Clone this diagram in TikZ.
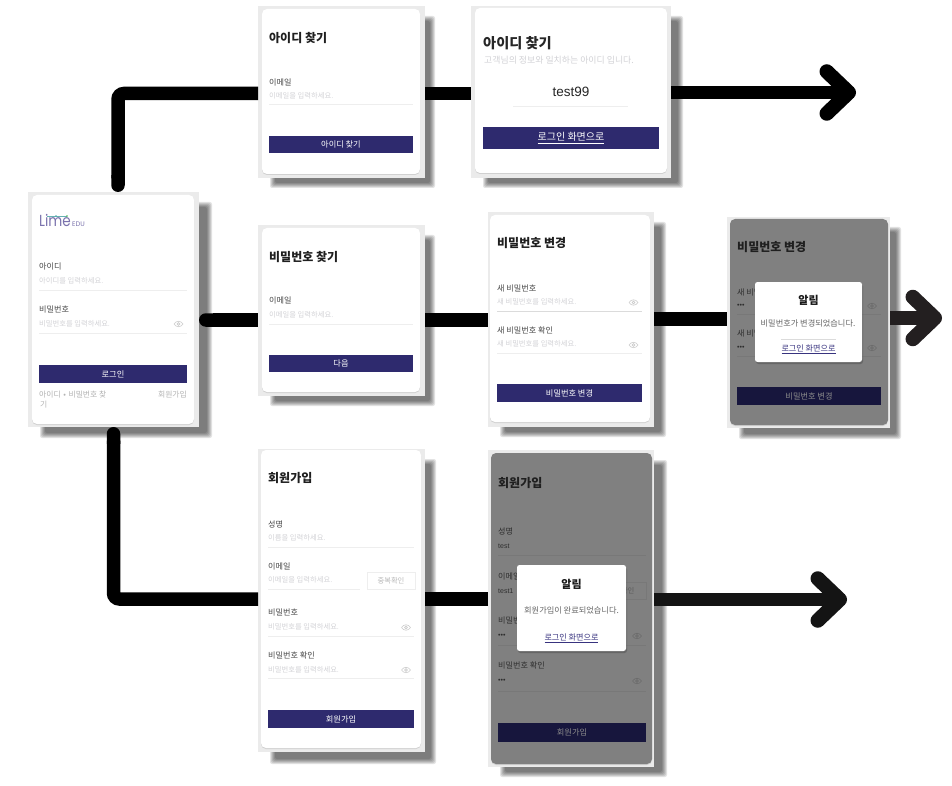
\documentclass[tikz,border=0pt]{standalone}
\usepackage{fontspec}
\setmainfont{Noto Sans CJK KR}
\newfontfamily\logofont{Poppins}
\newfontfamily\latinfont{Liberation Sans}
\usetikzlibrary{arrows.meta}
\definecolor{framegray}{HTML}{EBEBEB}
\definecolor{navy}{HTML}{2E2A6E}
\definecolor{navydim}{HTML}{17163D}
\definecolor{dimcard}{HTML}{808080}
\definecolor{holder}{HTML}{D2D2D6}
\definecolor{fieldrule}{HTML}{EEEEEE}
\definecolor{logopurple}{HTML}{7A72AD}
\definecolor{linkblue}{HTML}{38337F}
\definecolor{arrowdark}{HTML}{231F20}
\newcounter{nn}
\newcommand{\mytxt}[4]{\stepcounter{nn}\node[#1] (t\thenn) at (#2,#3) {#4};}
\newcommand{\centerbox}[6]{% style, name, x1,y1,x2,y2
  \pgfmathsetmacro{\boxw}{#5-#3}\pgfmathsetmacro{\boxh}{#6-#4}
  \pgfmathsetmacro{\boxx}{(#5+#3)/2}\pgfmathsetmacro{\boxy}{(#6+#4)/2}
  \node[#1,minimum width=\boxw pt,minimum height=\boxh pt] (#2) at (\boxx,\boxy) {};}
\newcommand{\softshadow}[4]{%
  \foreach \k in {0,...,5}{\fill[black,fill opacity=.11,rounded corners=2pt]
    (#1+\k,#2+\k) rectangle (#3-\k,#4-\k);}}
\newcommand{\panel}[7]{% name, x1,y1,x2,y2, shadow x2,y2
  \pgfmathsetmacro{\sxa}{#2+12}\pgfmathsetmacro{\sya}{#3+10}
  \softshadow{\sxa}{\sya}{#6}{#7}
  \centerbox{framebox}{#1}{#2}{#3}{#4}{#5}}
\newcommand{\card}[6]{% style,name,x1,y1,x2,y2
  \pgfmathsetmacro{\eya}{#4+1}\pgfmathsetmacro{\eyb}{#6+1}
  \fill[black!18,rounded corners=5pt] (#3,\eya) rectangle (#5,\eyb);
  \centerbox{#1}{#2}{#3}{#4}{#5}{#6}}
\newcommand{\fieldline}[4][fieldrule]{\draw[#1,line width=.7pt] (#2,#4) -- (#3,#4);}
\newcommand{\button}[8]{% name,x1,y1,x2,y2,fill,textcolor,text
  \pgfmathsetmacro{\boxw}{#4-#2}\pgfmathsetmacro{\boxh}{#5-#3}
  \pgfmathsetmacro{\boxx}{(#4+#2)/2}\pgfmathsetmacro{\boxy}{(#5+#3)/2}
  \node[btnbox,fill=#6,text=#7,minimum width=\boxw pt,minimum height=\boxh pt] (#1) at (\boxx,\boxy) {#8};}
\newcommand{\eyeicon}[3]{%
  \draw[#3,line width=.6pt] (#1-4.5,#2) .. controls (#1-2,#2-3.6) and (#1+2,#2-3.6) .. (#1+4.5,#2)
    .. controls (#1+2,#2+3.6) and (#1-2,#2+3.6) .. (#1-4.5,#2);
  \draw[#3,line width=.6pt] (#1,#2) circle (1.4pt);}
\tikzset{
  framebox/.style={fill=framegray,inner sep=0pt,outer sep=0pt},
  whitecard/.style={fill=white,rounded corners=5pt,inner sep=0pt,outer sep=0pt},
  greycard/.style={fill=dimcard,rounded corners=5pt,inner sep=0pt,outer sep=0pt},
  modalcard/.style={fill=white,rounded corners=2.5pt,inner sep=0pt,outer sep=0pt},
  btnbox/.style={inner sep=0pt,outer sep=0pt,font=\fontsize{8.2}{10}\selectfont},
  ttl/.style={anchor=west,inner sep=0pt,font=\fontsize{12}{14}\selectfont\bfseries,text=black!88},
  ttlbig/.style={anchor=west,inner sep=0pt,font=\fontsize{14.2}{16}\selectfont\bfseries,text=black!85},
  lab/.style={anchor=west,inner sep=0pt,font=\fontsize{8.1}{10}\selectfont,text=black!72},
  labdim/.style={anchor=west,inner sep=0pt,font=\fontsize{8.1}{10}\selectfont,text=black!82},
  ph/.style={anchor=west,inner sep=0pt,font=\fontsize{7.3}{9}\selectfont,text=holder},
  smalldim/.style={anchor=west,inner sep=0pt,font=\latinfont\fontsize{7}{9}\selectfont,text=black!82},
  foot/.style={inner sep=0pt,font=\fontsize{7.8}{9}\selectfont,text=black!30},
  modalhead/.style={inner sep=0pt,font=\fontsize{11}{13}\selectfont\bfseries,text=black!90},
  modalmsg/.style={inner sep=0pt,font=\fontsize{8.2}{10}\selectfont,text=black!60},
  modallink/.style={inner sep=0pt,font=\fontsize{8.1}{10}\selectfont,text=linkblue},
  conn/.style={line width=13.5pt,black,line cap=butt},
  roundstart/.style={{Round Cap[]}-},
  head/.style={-{Straight Barb[round,length=22pt,width=42pt,line width=14.5pt]}}
}
\begin{document}
\begin{tikzpicture}[x=1pt,y=-1pt]
\useasboundingbox (0,0) rectangle (952,786);
\fill[white] (0,0) rectangle (952,786);

% ---------- login
\panel{s1}{28}{192}{199}{427}{212}{438}
\card{whitecard}{s1c}{32}{195}{194}{424}
\mytxt{anchor=base west,inner sep=0pt,xscale=.85,font=\logofont\fontsize{16}{17}\selectfont,text=logopurple}{39}{227}{Lime}
\mytxt{anchor=base west,inner sep=0pt,font=\logofont\fontsize{6.6}{8}\selectfont,text=logopurple}{72}{227}{EDU}
\draw[teal!60,line width=.3pt] (47,216) -- (67,216);
\fill[teal!70] (56,216) circle (.9pt);
\fill[green!60!black!70] (67,216) circle (.9pt);
\mytxt{lab}{39}{266}{아이디}
\mytxt{ph}{39}{281}{아이디를 입력하세요.}
\fieldline{39}{187}{290}
\mytxt{lab}{39}{309}{비밀번호}
\mytxt{ph}{39}{323.5}{비밀번호를 입력하세요.}
\fieldline{39}{187}{333}
\eyeicon{178.5}{324}{black!20}
\button{b1}{39}{365}{187}{383}{navy}{white}{로그인}
\mytxt{foot,anchor=west}{39}{395}{아이디\,\,•\,\,비밀번호 찾}
\mytxt{foot,anchor=west}{40}{405}{기}
\mytxt{foot,anchor=east}{187}{395}{회원가입}

% ---------- find id
\panel{s2}{258}{6}{425}{178}{435}{188}
\card{whitecard}{s2c}{262}{9}{420}{174}
\mytxt{ttl}{269}{38}{아이디 찾기}
\mytxt{lab}{269}{82}{이메일}
\mytxt{ph}{269}{96}{이메일을 입력하세요.}
\fieldline{269}{413}{104}
\button{b2}{269}{136}{413}{153}{navy}{white}{아이디 찾기}

% ---------- find id result
\panel{s3}{471}{6}{671}{178}{683}{188}
\card{whitecard}{s3c}{475}{8}{667}{173}
\mytxt{ttlbig}{483}{43.5}{아이디 찾기}
\mytxt{anchor=west,inner sep=0pt,font=\fontsize{8.9}{10}\selectfont,text=holder}{484}{60}{고객님의 정보와 일치하는 아이디 입니다.}
\mytxt{inner sep=0pt,font=\latinfont\fontsize{13.5}{15}\selectfont,text=black!85}{571}{92}{test99}
\fieldline{513}{628}{106}
\button{b3}{483}{127}{659}{149}{navy}{white}{\fontsize{10}{12}\selectfont\underline{로그인 화면으로}}

% ---------- find password
\panel{s4}{258}{225}{425}{396}{435}{406}
\card{whitecard}{s4c}{262}{228}{420}{392}
\mytxt{ttl}{269}{257}{비밀번호 찾기}
\mytxt{lab}{269}{300}{이메일}
\mytxt{ph}{269}{315}{이메일을 입력하세요.}
\fieldline{269}{413}{324}
\button{b4}{269}{355}{413}{372}{navy}{white}{다음}

% ---------- change password
\panel{s5}{488}{212}{654}{427}{666}{437}
\card{whitecard}{s5c}{490}{215}{650}{422}
\mytxt{ttl}{497}{243}{비밀번호 변경}
\mytxt{lab}{497}{288}{새 비밀번호}
\mytxt{ph}{497}{302}{새 비밀번호를 입력하세요.}
\fieldline[black!14]{497}{642}{311}
\eyeicon{633.5}{302.5}{black!20}
\mytxt{lab}{497}{330}{새 비밀번호 확인}
\mytxt{ph}{497}{344}{새 비밀번호를 입력하세요.}
\fieldline{497}{642}{353}
\eyeicon{633.5}{345}{black!20}
\button{b5}{497}{384}{642}{402}{navy}{white}{비밀번호 변경}

% ---------- change password, alert
\panel{s6}{727}{217}{890}{428}{901}{439}
\card{greycard}{s6c}{730}{219}{888}{425}
\mytxt{ttl}{737}{247}{비밀번호 변경}
\mytxt{labdim}{737}{292}{새 비밀번호}
\mytxt{smalldim}{737}{306}{•••}
\fieldline[black!53]{737}{881}{314}
\eyeicon{872}{306}{black!58}
\mytxt{labdim}{737}{333}{새 비밀번호 확인}
\mytxt{smalldim}{737}{348}{•••}
\fieldline[black!53]{737}{881}{356}
\eyeicon{872}{348}{black!58}
\button{b6}{737}{387}{881}{405}{navydim}{black!45}{비밀번호 변경}
\fill[black,fill opacity=.2,rounded corners=2.5pt] (756,284) rectangle (863,364);
\centerbox{modalcard}{m6}{755}{282}{862}{362}
\mytxt{modalhead}{808.5}{300}{알림}
\mytxt{modalmsg}{808}{323}{비밀번호가 변경되었습니다.}
\fieldline[black!14]{781}{836}{339}
\mytxt{modallink}{808.5}{349}{\underline{로그인 화면으로}}

% ---------- sign up
\panel{s7}{258}{449}{425}{752}{436}{764}
\card{whitecard}{s7c}{261}{450}{421}{748}
\mytxt{ttl}{268}{478}{회원가입}
\mytxt{lab}{268}{524}{성명}
\mytxt{ph}{268}{538}{이름을 입력하세요.}
\fieldline{268}{414}{547}
\mytxt{lab}{268}{566}{이메일}
\mytxt{ph}{268}{580}{이메일을 입력하세요.}
\fieldline{268}{360}{589}
\draw[fieldrule,line width=.7pt] (367,572) rectangle (415,589);
\mytxt{inner sep=0pt,font=\fontsize{7.3}{9}\selectfont,text=black!28}{391}{580.5}{중복확인}
\mytxt{lab}{268}{612}{비밀번호}
\mytxt{ph}{268}{627}{비밀번호를 입력하세요.}
\fieldline{268}{414}{636}
\eyeicon{406}{627.5}{black!20}
\mytxt{lab}{268}{655}{비밀번호 확인}
\mytxt{ph}{268}{670}{비밀번호를 입력하세요.}
\fieldline{268}{414}{678}
\eyeicon{406}{670}{black!20}
\button{b7}{268}{710}{414}{728}{navy}{white}{회원가입}

% ---------- sign up, alert
\panel{s8}{488}{450}{654}{767}{667}{777}
\card{greycard}{s8c}{491}{453}{652}{764}
\mytxt{ttl}{498}{483}{회원가입}
\mytxt{labdim}{498}{531}{성명}
\mytxt{smalldim}{498}{546}{test}
\fieldline[black!53]{498}{646}{555}
\mytxt{labdim}{498}{576}{이메일}
\mytxt{smalldim}{498}{591}{test1}
\draw[black!53,line width=.7pt] (597,582) rectangle (646,599);
\mytxt{inner sep=0pt,font=\fontsize{7.3}{9}\selectfont,text=black!65}{621}{591}{중복확인}
\mytxt{labdim}{498}{620}{비밀번호}
\mytxt{smalldim}{498}{636}{•••}
\fieldline[black!53]{498}{646}{645}
\eyeicon{637}{636}{black!58}
\mytxt{labdim}{498}{665}{비밀번호 확인}
\mytxt{smalldim}{498}{681}{•••}
\fieldline[black!53]{498}{646}{691}
\eyeicon{637}{681}{black!58}
\button{b8}{498}{723}{646}{742}{navydim}{black!45}{회원가입}
\fill[black,fill opacity=.2,rounded corners=2.5pt] (518,567) rectangle (627,653);
\centerbox{modalcard}{m8}{517}{565}{626}{651}
\mytxt{modalhead}{571.5}{584}{알림}
\mytxt{modalmsg}{571.5}{610}{회원가입이 완료되었습니다.}
\mytxt{modallink}{571.5}{638}{\underline{로그인 화면으로}}

% ---------- connectors
\coordinate (e1) at (856,92.5);
\coordinate (e2) at (942,318);
\coordinate (e3) at (847,599.5);
\draw[conn,roundstart,rounded corners=6pt] ([xshift=4.5pt]s1.north) |- ([yshift=-1.5pt]s2.west);
\draw[conn] ([yshift=-1.5pt]s2.east) -- ([yshift=-1.5pt]s3.west);
\draw[conn,head] ([yshift=-.5pt]s3.east) -- (e1);
\draw[conn,roundstart] ([yshift=-10.5pt]s1.east) -- ([yshift=-9.5pt]s4.west);
\draw[conn] ([yshift=-9.5pt]s4.east) -- ([yshift=-.5pt]s5.west);
\draw[conn] ([yshift=.5pt]s5.east) -- ([yshift=3.5pt]s6.west);
\draw[conn,head,arrowdark] ([yshift=4.5pt]s6.east) -- (e2);
\draw[conn,roundstart,rounded corners=6pt] (s1.south) |- ([yshift=1.5pt]s7.west);
\draw[conn] ([yshift=1.5pt]s7.east) -- ([yshift=9.5pt]s8.west);
\draw[conn,head,black!92] ([yshift=9pt]s8.east) -- (e3);
\end{tikzpicture}
\end{document}
